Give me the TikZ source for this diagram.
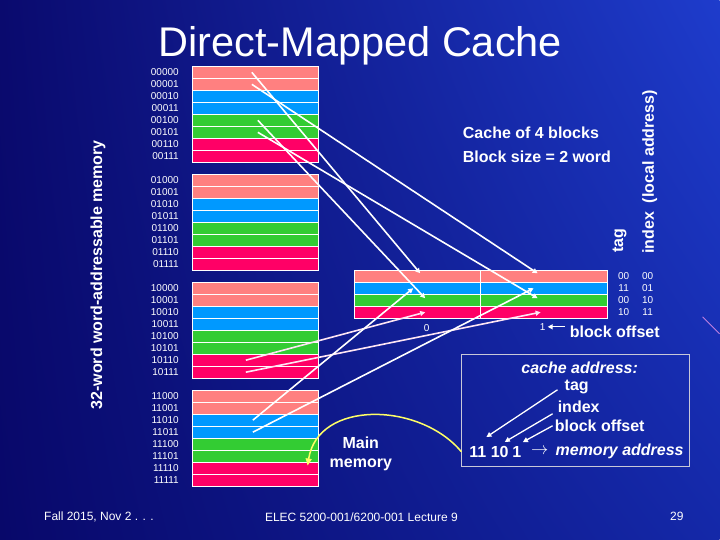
\documentclass[tikz,border=0pt]{standalone}
\usepackage{fontspec}
\setmainfont{Liberation Sans}
\usetikzlibrary{arrows.meta,calc,shadings}
\definecolor{NavyA}{HTML}{0A0A6E}
\definecolor{NavyB}{HTML}{08086A}
\definecolor{RoyalA}{HTML}{1E3CCC}
\definecolor{RoyalB}{HTML}{1428A8}
\definecolor{Salmon}{HTML}{FF8080}
\definecolor{Sky}{HTML}{0099FF}
\definecolor{Grass}{HTML}{33CC33}
\definecolor{Rose}{HTML}{FF0066}
\definecolor{Lemon}{HTML}{FFFF66}
\definecolor{Frame}{HTML}{C8C8D8}
\definecolor{Mauve}{HTML}{C080E0}
\definecolor{Blush}{HTML}{FFE6F4}

\begin{document}
\begin{tikzpicture}[x=1pt,y=-1pt,
    cell/.style={draw=white,line width=0.8pt,fill=#1,minimum width=126pt,minimum height=12pt,inner sep=0pt,anchor=north west},
    lbl/.style={text=white,inner sep=0pt,font=\fontsize{10}{12}\selectfont},
    bt/.style={text=white,inner sep=0pt,font=\fontsize{16}{19}\selectfont\bfseries},
    ft/.style={text=white,inner sep=0pt,font=\fontsize{12}{14}\selectfont},
    a/.style={-{Triangle[length=5pt,width=5pt]},line width=1.6pt,draw=white},
    ya/.style={-{Triangle[length=7pt,width=6pt]},line width=1.5pt,draw=Lemon}]
  % background
  \shade[upper left=NavyA,upper right=RoyalA,lower left=NavyB,lower right=RoyalB] (0,0) rectangle (720,540);
  \draw[Mauve,line width=0.8pt] (703,317) -- (720,334);
  \node[text=white,inner sep=0pt,anchor=base,font=\fontsize{41.5}{48}\selectfont] (title) at (360.5,57) {Direct-Mapped Cache};
  % main memory, four blocks of eight words
  \foreach \b/\y in {00/66,01/174,10/282,11/390}{
    \foreach \w/\c [count=\i from 0] in {000/Salmon,001/Salmon,010/Sky,011/Sky,100/Grass,101/Grass,110/Rose,111/Rose}{
      \node[cell=\c] (m\b\w) at (192,{\y+12*\i}) {};
      \node[lbl,anchor=east] (l\b\w) at (179,{\y+12*\i+6}) {\b\w};
    }
  }
  \node[bt,rotate=90] (memhd) at (98,275) {32-word word-addressable memory};
  % cache
  \foreach \r/\c/\g [count=\i from 0] in {00/Salmon/00,01/Sky/11,10/Grass/00,11/Rose/10}{
    \node[cell=\c] (cl\r) at (354,{270+12*\i}) {};
    \node[cell=\c,minimum width=127pt] (cr\r) at (480,{270+12*\i}) {};
    \node[lbl] (tg\r) at (624,{276+12*\i}) {\g};
    \node[lbl] (ix\r) at (648,{276+12*\i}) {\r};
  }
  \node[bt,rotate=90] (tghd) at (620,241) {tag};
  \node[bt,rotate=90] (ixhd) at (650,172) {index\ \ (local address)};
  \node[bt,anchor=west,align=left,font=\fontsize{16}{24}\selectfont\bfseries] (info) at (463,145) {Cache of 4 blocks\\Block size = 2 word};
  \node[lbl] (off0) at (427,328) {0};
  \node[lbl] (off1) at (543,327) {1};
  \node[bt,anchor=west] (offhd) at (570,332) {block offset};
  \draw[a,line width=1.2pt,shorten <=5pt,shorten >=2pt] (offhd.west |- off1) -- (off1.east);
  % mapping of words to cache
  \draw[a] ([xshift=60pt]m00000.west) -- ([xshift=3pt,yshift=3pt]cl00.center);
  \draw[a] ([xshift=60pt]m00001.west) -- ([xshift=-6pt,yshift=3pt]cr00.center);
  \draw[a] ([xshift=66pt]m00100.west) -- ([xshift=8pt,yshift=2pt]cl10.center);
  \draw[a] ([xshift=66pt]m00101.west) -- ([xshift=-6pt,yshift=2pt]cr10.center);
  \draw[a,draw=Blush] ([xshift=54pt]m10110.west) -- ([xshift=8pt]cl11.center);
  \draw[a,draw=Blush] ([xshift=54pt]m10111.west) -- ([xshift=-3pt]cr11.center);
  \draw[a] ([xshift=61pt]m11010.west) -- ([xshift=-4pt]cl01.center);
  \draw[a] ([xshift=61pt]m11011.west) -- ([xshift=-10pt]cr01.center);
  \node[bt,align=center] (mainm) at (361,454) {Main\\memory};
  % cache address box
  \node[draw=Frame,line width=0.8pt,minimum width=228pt,minimum height=112pt,inner sep=0pt] (cbox) at (576,411) {};
  \node[bt,font=\fontsize{16}{19}\selectfont\bfseries\itshape] (cadr) at (580,368) {cache address:};
  \node[bt] (ctag) at (577,387) {tag};
  \node[bt] (cidx) at (579,407) {index};
  \node[bt] (coff) at (600,426) {block offset};
  \node[bt] (d11) at (478,452) {11};
  \node[bt] (d10) at (500,452) {10};
  \node[bt] (d1) at (517,452) {1};
  \node[text=white,inner sep=0pt,font=\fontsize{16}{19}\selectfont] (darr) at (540,452) {$\rightarrow$};
  \node[bt,font=\fontsize{16}{19}\selectfont\bfseries\itshape] (dmem) at (620,452) {memory address};
  \draw[a,line width=1.3pt] ([xshift=-7pt,yshift=-3pt]ctag.west) -- ([xshift=0pt,yshift=9pt]d11.north east);
  \draw[a,line width=1.3pt] ([xshift=-5pt,yshift=-7pt]cidx.west) -- ([xshift=-4pt,yshift=4pt]d10.north east);
  \draw[a,line width=1.3pt] ([xshift=-2pt]coff.west) -- ([xshift=1.5pt,yshift=4pt]d1.north east);
  \draw[ya] (cbox.west |- d11) .. controls (420,402) and (318,400) .. ([xshift=-11pt,yshift=-3pt]m11101.south east);
  % footer
  \node[ft,anchor=west] (date) at (44,517) {Fall 2015, Nov 2 . . .};
  \node[ft,anchor=west] (course) at (265,517) {ELEC 5200-001/6200-001 Lecture 9};
  \node[ft,anchor=east] (page) at (684,517) {29};
\end{tikzpicture}
\end{document}
